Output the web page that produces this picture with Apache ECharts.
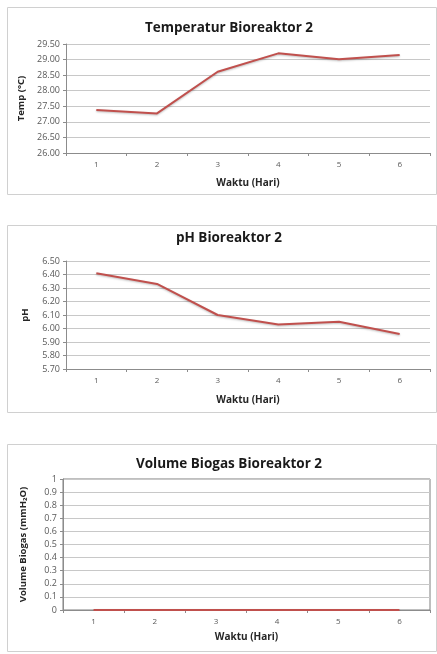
<!DOCTYPE html>
<html>
<head>
<meta charset="utf-8">
<script src="https://cdn.jsdelivr.net/npm/echarts@6/dist/echarts.min.js"></script>
<style>
  html, body { margin: 0; padding: 0; background: #fff; }
  #main { width: 437px; height: 654px; }
</style>
</head>
<body>
<div id="main"></div>
<script>
// data
var hari = ['1', '2', '3', '4', '5', '6']
var temp = [27.38, 27.27, 28.61, 29.2, 29.01, 29.15]
var ph = [6.41, 6.33, 6.10, 6.03, 6.05, 5.96]
var biogas = [0, 0, 0, 0, 0, 0]

var titles = ['Temperatur Bioreaktor 2', 'pH Bioreaktor 2', 'Volume Biogas Bioreaktor 2']
var yNames = ['Temp (°C)', 'pH', 'Volume Biogas (mmH₂O)']

var font = '"Open Sans", sans-serif'
var red = '#c0504d'
var myChart = echarts.init(document.getElementById('main'))

function xAxisFor (idx, gap) {
  return {
    type: 'category',
    gridIndex: idx,
    data: hari,
    name: 'Waktu (Hari)',
    nameLocation: 'middle',
    nameGap: gap,
    nameTextStyle: { fontFamily: font, fontWeight: 'bold', fontSize: 10, color: '#262626' },
    axisLine: { lineStyle: { color: '#8c8c8c' } },
    axisTick: { show: true, length: 3, lineStyle: { color: '#8c8c8c' } },
    axisLabel: { fontFamily: font, fontSize: 8, color: '#595959', margin: 8 },
    splitLine: { show: false }
  }
}

function yAxisFor (idx, min, max, step, gap, fmt) {
  return {
    type: 'value',
    gridIndex: idx,
    min: min,
    max: max,
    interval: step,
    name: yNames[idx],
    nameLocation: 'middle',
    nameRotate: 90,
    nameGap: gap,
    nameTextStyle: { fontFamily: font, fontWeight: 'bold', fontSize: 9.5, color: '#262626' },
    axisLine: { show: true, lineStyle: { color: '#8c8c8c' } },
    axisTick: { show: true, length: 3, lineStyle: { color: '#8c8c8c' } },
    axisLabel: { fontFamily: font, fontSize: 9, color: '#595959', margin: 6, formatter: fmt },
    splitLine: { lineStyle: { color: '#c8c8c8' } }
  }
}

var option = {
  animation: false,
  title: titles.map(function (t, i) {
    return {
      text: t,
      left: 224,
      textAlign: 'center',
      top: [16, 226, 452][i],
      textStyle: { fontFamily: font, fontWeight: 'bold', fontSize: 13.5, color: '#1a1a1a' }
    }
  }),
  graphic: [
    { type: 'rect', shape: { x: 7.5, y: 7.5, width: 429, height: 187 }, style: { fill: 'none', stroke: '#d0d0d0', lineWidth: 1 } },
    { type: 'rect', shape: { x: 7.5, y: 225.5, width: 429, height: 187 }, style: { fill: 'none', stroke: '#d0d0d0', lineWidth: 1 } },
    { type: 'rect', shape: { x: 7.5, y: 444.5, width: 429, height: 207 }, style: { fill: 'none', stroke: '#d0d0d0', lineWidth: 1 } }
  ],
  grid: [
    { left: 66, top: 44, width: 364, height: 109 },
    { left: 66, top: 261, width: 364, height: 108 },
    { left: 63, top: 479, width: 367, height: 131, show: true, borderColor: '#7f7f7f', borderWidth: 1 }
  ],
  xAxis: [xAxisFor(0, 25), xAxisFor(1, 26), xAxisFor(2, 22)],
  yAxis: [
    yAxisFor(0, 26, 29.5, 0.5, 39, function (v) { return v.toFixed(2) }),
    yAxisFor(1, 5.7, 6.5, 0.1, 36, function (v) { return v.toFixed(2) }),
    yAxisFor(2, 0, 1, 0.1, 35, function (v) { return String(Math.round(v * 10) / 10) })
  ],
  series: [
    { type: 'line', xAxisIndex: 0, yAxisIndex: 0, data: temp },
    { type: 'line', xAxisIndex: 1, yAxisIndex: 1, data: ph },
    { type: 'line', xAxisIndex: 2, yAxisIndex: 2, data: biogas }
  ].map(function (s) {
    s.showSymbol = false
    s.symbol = 'none'
    s.lineStyle = { color: red, width: 2, shadowColor: 'rgba(0,0,0,0.25)', shadowBlur: 2, shadowOffsetY: 1 }
    s.itemStyle = { color: red }
    return s
  })
}
myChart.setOption(option)
</script>
</body>
</html>
